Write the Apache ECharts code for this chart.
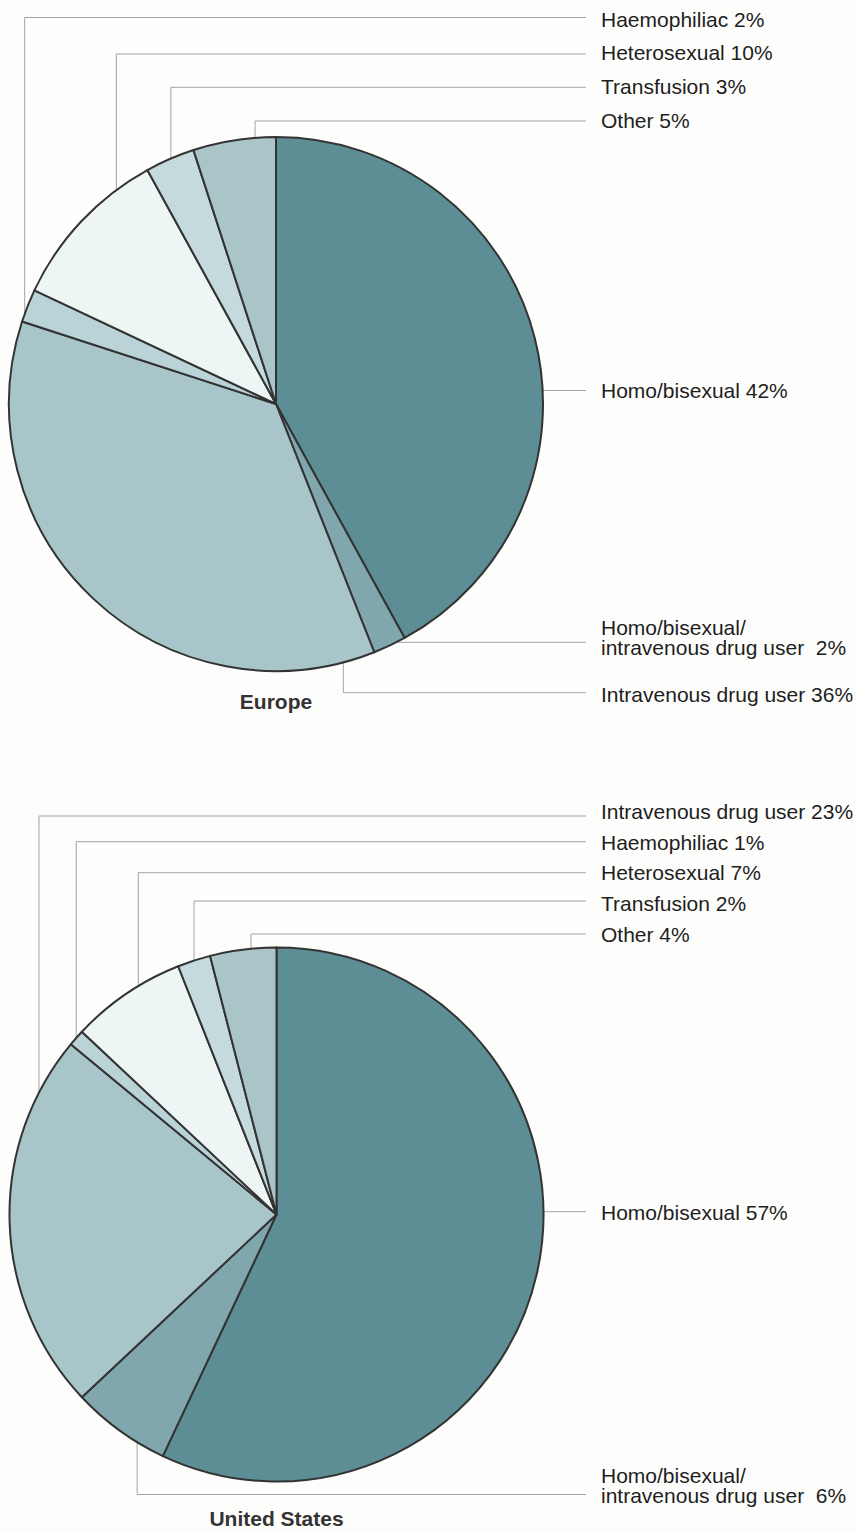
<!DOCTYPE html>
<html><head><meta charset="utf-8">
<script src="https://cdn.jsdelivr.net/npm/echarts@6/dist/echarts.min.js"></script>
<style>html,body{margin:0;padding:0;background:#fdfdfb}#c{width:858px;height:1531px}</style>
</head><body><div id="c"></div>
<script>
// ---- data ----
const categories = ['Homo/bisexual', 'Homo/bisexual/\nintravenous drug user ', 'Intravenous drug user', 'Haemophiliac', 'Heterosexual', 'Transfusion', 'Other'];
const europeValues = [42, 2, 36, 2, 10, 3, 5];
const usValues = [57, 6, 23, 1, 7, 2, 4];
const chartTitles = ['Europe', 'United States'];

// ---- styles & layout ----
const sliceColors = ['#5d8e95', '#7fa7ad', '#a8c6ca', '#bad3d6', '#eef6f5', '#c4dadc', '#a9c5c8'];
const R = 267;
const centers = [[276, 404], [276.5, 1214.5]];
const titleY = [701, 1518];
const LINE_END_X = 586;
const LABEL_X = 601;
// leader lines: 'h' = horizontal from pie edge, 'v' = vertical from point f inside slice
const europeLeaders = [
  { type: 'h', lineY: 390.5, textY: 390 },
  { type: 'h', lineY: 642.3, textY: 637.5 },
  { type: 'v', f: 0.054, lineY: 692.7, textY: 694 },
  { type: 'v', f: 0.24, lineY: 17.5, textY: 19.5 },
  { type: 'v', f: 0.78, lineY: 54, textY: 52.5 },
  { type: 'v', f: 0.52, lineY: 87.3, textY: 86.5 },
  { type: 'v', f: 0.75, lineY: 121, textY: 120 }
];
const usLeaders = [
  { type: 'h', lineY: 1211.7, textY: 1212 },
  { type: 'v', f: 0.29, lineY: 1494.5, textY: 1485 },
  { type: 'v', f: 0.85, lineY: 816, textY: 811 },
  { type: 'v', f: 0.5, lineY: 841.7, textY: 842 },
  { type: 'v', f: 0.62, lineY: 872.7, textY: 872 },
  { type: 'v', f: 0.5, lineY: 901, textY: 903 },
  { type: 'v', f: 0.62, lineY: 934, textY: 934 }
];

function makeLayout(values, center, cfg) {
  const total = values.reduce((a, b) => a + b, 0);
  const starts = []; let acc = 0;
  values.forEach(v => { starts.push(acc); acc += v; });
  return function (params) {
    const i = params.dataIndex; const c = cfg[i];
    const cx = center[0], cy = center[1];
    let px, py;
    if (c.type === 'h') {
      py = c.lineY; px = cx + Math.sqrt(R * R - (py - cy) * (py - cy));
    } else {
      const a = (starts[i] + c.f * values[i]) / total * 2 * Math.PI;
      px = cx + R * Math.sin(a); py = cy - R * Math.cos(a);
    }
    return {
      x: LABEL_X, y: c.textY, align: 'left', verticalAlign: 'middle',
      labelLinePoints: [[px, py], [px, c.lineY], [LINE_END_X, c.lineY]]
    };
  };
}

const FONT = '"Liberation Sans", Arial, Helvetica, sans-serif';
function pieSeries(values, center, leaders) {
  return {
    type: 'pie', center: center, radius: R, startAngle: 90, clockwise: true,
    avoidLabelOverlap: false, animation: false, silent: true,
    data: categories.map((n, i) => ({ name: n, value: values[i], itemStyle: { color: sliceColors[i] } })),
    itemStyle: { borderColor: '#333333', borderWidth: 2 },
    label: {
      show: true, position: 'outside', formatter: p => p.name + ' ' + p.value + '%',
      color: '#1e1e1e', fontSize: 21, fontFamily: FONT, lineHeight: 20, overflow: 'none', width: 300
    },
    labelLine: { show: true, length: 5, length2: 5, lineStyle: { color: '#a3a3a3', width: 1 } },
    labelLayout: makeLayout(values, center, leaders),
    emphasis: { disabled: true }
  };
}

const chart = echarts.init(document.getElementById('c'), null, { renderer: 'svg' });
chart.setOption({
  backgroundColor: '#fdfdfb',
  series: [
    pieSeries(europeValues, centers[0], europeLeaders),
    pieSeries(usValues, centers[1], usLeaders)
  ],
  graphic: chartTitles.map((t, i) => ({
    type: 'text', x: centers[i][0], y: titleY[i],
    style: { text: t, font: 'bold 21px ' + FONT, fill: '#333333', align: 'center', verticalAlign: 'middle' }
  }))
});
</script></body></html>
